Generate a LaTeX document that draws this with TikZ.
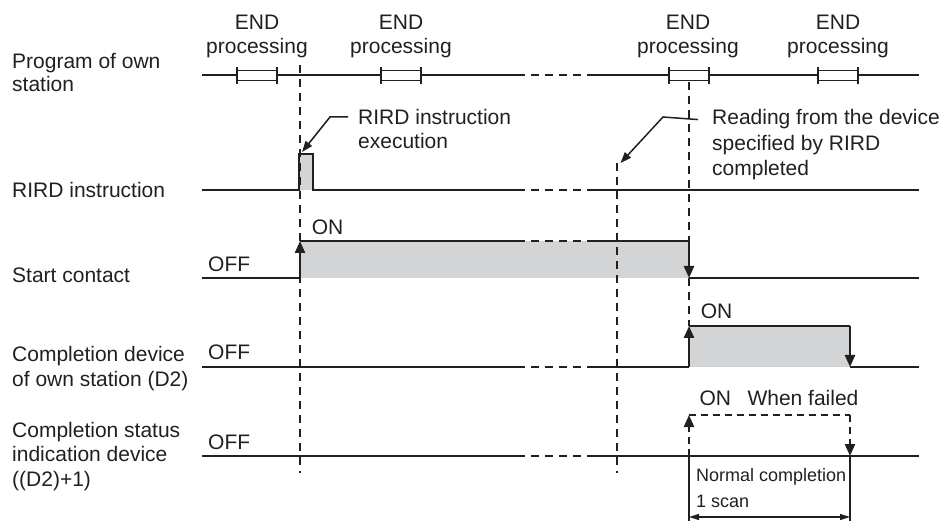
\documentclass[tikz,border=0pt]{standalone}
\usepackage{fontspec}
\setmainfont{Liberation Sans}
\usetikzlibrary{arrows.meta}
\definecolor{sg}{RGB}{211,212,214}
\definecolor{ink}{RGB}{35,31,32}
\begin{document}
\begin{tikzpicture}[x=1pt,y=-1pt,
  sig/.style={line width=2.3pt,draw=ink},
  brk/.style={line width=2.3pt,draw=ink,dash pattern=on 8pt off 6pt,dash phase=8pt},
  vdash/.style={line width=1.7pt,draw=ink,dash pattern=on 8pt off 6pt},
  edgearrow/.style={line width=2.3pt,draw=ink,-{Triangle[length=12pt,width=10pt]}},
  failarrow/.style={line width=2.3pt,draw=ink,dash pattern=on 7pt off 5pt,-{Triangle[length=12pt,width=10pt]}},
  faildash/.style={line width=2.3pt,draw=ink,dash pattern=on 7pt off 5pt},
  leader/.style={line width=1.5pt,draw=ink,-{Triangle[length=11pt,width=8pt]}},
  thin/.style={line width=1.3pt,draw=ink},
  lbl/.style={anchor=base west,inner sep=0pt,text=ink,font=\fontsize{21}{25}\selectfont},
  ctr/.style={anchor=base,inner sep=0pt,text=ink,font=\fontsize{21}{25}\selectfont},
  small/.style={anchor=base west,inner sep=0pt,text=ink,font=\fontsize{18}{22}\selectfont},
  endbox/.style={draw=ink,fill=white,line width=1.5pt},
  tick/.style={line width=2.3pt,draw=ink}
]
\useasboundingbox (0,0) rectangle (943,521);

% ---------- left labels ----------
\node[lbl] (lp1) at (12,68.5) {Program of own};
\node[lbl] (lp2) at (12,92) {station};
\node[lbl] (lr1) at (12,197.5) {RIRD instruction};
\node[lbl] (ls1) at (12,283) {Start contact};
\node[lbl] (lc1) at (12,362) {Completion device};
\node[lbl] (lc2) at (12,386.5) {of own station (D2)};
\node[lbl] (ld1) at (12,437) {Completion status};
\node[lbl] (ld2) at (12,461.5) {indication device};
\node[lbl] (ld3) at (12,486) {((D2)+1)};

% ---------- END processing labels ----------
\foreach \c/\n in {257/a,401/b,688/c,838/d}{
  \node[ctr] (end\n) at (\c,30) {END};
  \node[ctr] (proc\n) at (\c,54) {processing};
}

% ---------- gray fills ----------
\fill[sg] (299,154) rectangle (313,190);
\fill[sg] (300,241) rectangle (689,278);
\fill[sg] (689,326) rectangle (850,367);

% ---------- vertical dashed guides ----------
\draw[vdash] (300,65) -- (300,473);
\draw[vdash] (689,82) -- (689,326);
\draw[vdash] (617,163) -- (617,473);

% ---------- program of own station ----------
\draw[sig] (202,75) -- (525,75);
\draw[brk] (525,75) -- (588,75);
\draw[sig] (588,75) -- (919,75);
\foreach \xl in {237,381,669,818}{
  \draw[endbox] (\xl,70.5) rectangle ++(40,10);
  \draw[tick] (\xl,67) -- (\xl,84);
  \draw[tick] (\xl+40,67) -- (\xl+40,84);
}

% ---------- RIRD instruction ----------
\draw[sig] (202,190) -- (299,190) -- (299,154) -- (313,154) -- (313,190) -- (525,190);
\draw[brk] (525,190) -- (588,190);
\draw[sig] (588,190) -- (919,190);

% ---------- start contact ----------
\draw[sig] (202,278) -- (300,278);
\draw[edgearrow] (300,278) -- (300,241);
\draw[sig] (300,241) -- (525,241);
\draw[brk] (525,241) -- (588,241);
\draw[sig] (588,241) -- (689,241);
\draw[edgearrow] (689,241) -- (689,278);
\draw[sig] (689,278) -- (919,278);
\node[lbl] (off1) at (208,271.7) {OFF};
\node[lbl] (on1) at (311.7,234.3) {ON};

% ---------- completion device ----------
\draw[sig] (202,367) -- (525,367);
\draw[brk] (525,367) -- (588,367);
\draw[sig] (588,367) -- (689,367);
\draw[edgearrow] (689,367) -- (689,326);
\draw[sig] (689,326) -- (850,326);
\draw[edgearrow] (850,326) -- (850,367);
\draw[sig] (850,367) -- (919,367);
\node[lbl] (off2) at (208,360) {OFF};
\node[lbl] (on2) at (700.7,319) {ON};

% ---------- completion status ----------
\draw[sig] (202,456) -- (525,456);
\draw[brk] (525,456) -- (588,456);
\draw[sig] (588,456) -- (919,456);
\draw[failarrow] (689,456) -- (689,415);
\draw[faildash] (689,415) -- (850,415);
\draw[failarrow] (850,415) -- (850,456);
\node[lbl] (off3) at (208,449.3) {OFF};
\node[lbl] (on3) at (699.3,405.7) {ON};
\node[lbl] (fail) at (747.3,405.7) {When failed};

% ---------- annotations ----------
\node[lbl] (ra1) at (358,124.5) {RIRD instruction};
\node[lbl] (ra2) at (358,148.5) {execution};
\coordinate (rtip) at (302,152);
\draw[leader] ([xshift=-10pt]ra1.west) -- (330,117) -- (rtip);

\node[lbl] (rd1) at (712,125) {Reading from the device};
\node[lbl] (rd2) at (712,150.5) {specified by RIRD};
\node[lbl] (rd3) at (712,176) {completed};
\coordinate (dtip) at (620.5,163);
\draw[leader] ([xshift=-14pt]rd1.west) -- (663,117) -- (dtip);

% ---------- 1 scan dimension ----------
\coordinate (sl) at (689,517);
\coordinate (sr) at (850,517);
\draw[thin] (689,456) -- (689,521);
\draw[thin] (850,456) -- (850,521);
\draw[thin,{Triangle[length=10pt,width=6pt]}-{Triangle[length=10pt,width=6pt]}] (sl) -- (sr);
\node[small] (nc1) at (696,481.7) {Normal completion};
\node[small] (nc2) at (696,507.3) {1 scan};
\end{tikzpicture}
\end{document}
